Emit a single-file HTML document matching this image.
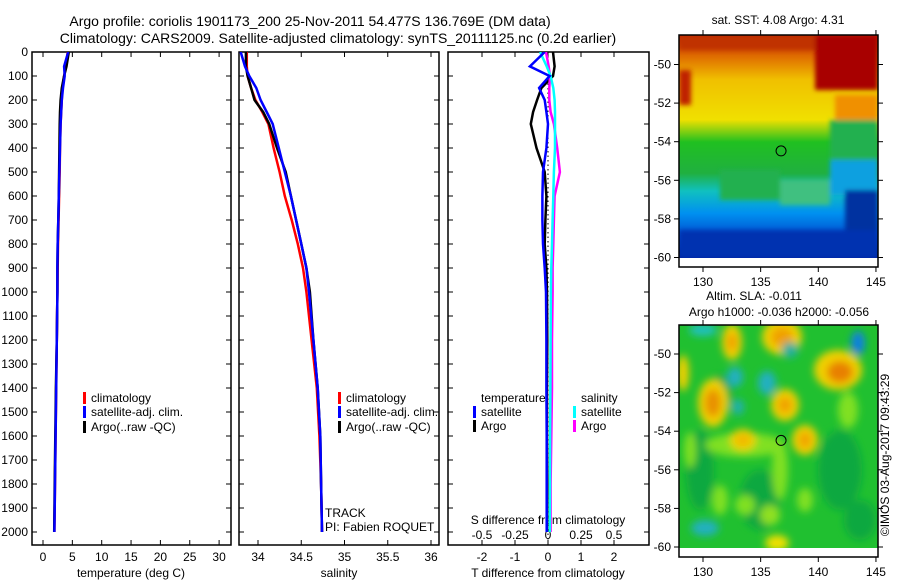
<!DOCTYPE html>
<html><head><meta charset="utf-8">
<style>
html,body{margin:0;padding:0;background:#fff;}
svg{display:block;font-family:"Liberation Sans",sans-serif;}
text{font-size:12px;fill:#000;}
</style></head>
<body>
<svg id="fig" width="900" height="580" viewBox="0 0 900 580" xmlns="http://www.w3.org/2000/svg">
<defs>
<filter id="blur" x="-20%" y="-20%" width="140%" height="140%"><feGaussianBlur stdDeviation="4"/></filter>
<filter id="blur2" x="-20%" y="-20%" width="140%" height="140%"><feGaussianBlur stdDeviation="2.5"/></filter>
<clipPath id="c1"><rect x="32" y="52" width="199" height="493"/></clipPath>
<clipPath id="c2"><rect x="239" y="52" width="200" height="493"/></clipPath>
<clipPath id="c3"><rect x="448" y="52" width="201" height="493"/></clipPath>
<clipPath id="cm1"><rect x="679" y="35" width="199" height="223"/></clipPath>
<clipPath id="cm2"><rect x="679" y="325" width="199" height="223"/></clipPath>
<linearGradient id="sstg" x1="0" y1="0" x2="0" y2="1">
<stop offset="0" stop-color="#c02000"/><stop offset="0.1" stop-color="#e07000"/>
<stop offset="0.2" stop-color="#f0c000"/><stop offset="0.38" stop-color="#f0e000"/>
<stop offset="0.48" stop-color="#20c020"/><stop offset="0.62" stop-color="#20b040"/>
<stop offset="0.7" stop-color="#10c0c0"/><stop offset="0.8" stop-color="#0090f0"/>
<stop offset="0.9" stop-color="#0050d0"/><stop offset="1" stop-color="#0020a0"/>
</linearGradient>
</defs>
<text x="310" y="26" text-anchor="middle" style="font-size:14px">Argo profile: coriolis 1901173_200 25-Nov-2011 54.477S 136.769E (DM data)</text>
<text x="338" y="43" text-anchor="middle" style="font-size:14px">Climatology: CARS2009. Satellite-adjusted climatology: synTS_20111125.nc (0.2d earlier)</text>
<g id="maps"></g>
<g id="axes"></g>
<g id="series"></g>
<text transform="translate(889,455) rotate(-90)" text-anchor="middle">©IMOS 03-Aug-2017 09:43:29</text>
</svg>
<script>
// depth axis values
const depthTicks=[0,100,200,300,400,500,600,700,800,900,1000,1100,1200,1300,1400,1500,1600,1700,1800,1900,2000];
const tempTicks=[0,5,10,15,20,25,30];
const salTicks=[34,34.5,35,35.5,36];
const salTickLabels=["34","34.5","35","35.5","36"];
const tdTicks=[-2,-1,0,1,2];
const sdTicks=[-0.5,-0.25,0,0.25,0.5];
const sdTickLabels=["-0.5","-0.25","0","0.25","0.5"];
// profiles
const depths=[0,60,100,150,200,250,300,400,500,600,700,800,900,1000,1200,1400,1600,1800,2000];
const tempClim=[4.2,3.9,3.6,3.3,3.2,3.1,3.0,2.9,2.85,2.75,2.65,2.55,2.5,2.45,2.35,2.25,2.15,2.05,1.95];
const tempSat=[4.3,3.6,3.7,3.4,3.2,3.1,3.0,2.9,2.8,2.7,2.6,2.5,2.45,2.45,2.35,2.25,2.15,2.05,1.95];
const tempArgo=[4.4,4.0,3.6,3.2,3.0,2.9,2.85,2.8,2.75,2.7,2.6,2.5,2.45,2.45,2.35,2.2,2.1,2.0,1.9];
const salClim=[33.87,33.87,33.88,33.92,33.97,34.05,34.12,34.18,34.25,34.31,34.39,34.46,34.52,34.56,34.62,34.68,34.71,34.73,34.74];
const salSat=[33.8,33.85,33.9,33.98,34.03,34.1,34.17,34.24,34.31,34.38,34.44,34.5,34.56,34.59,34.64,34.69,34.72,34.73,34.74];
const salArgo=[33.86,33.86,33.88,33.92,33.96,34.06,34.13,34.22,34.32,34.38,34.44,34.5,34.56,34.6,34.64,34.69,34.72,34.73,34.74];
const dTsat=[-0.1,-0.55,0.05,-0.27,-0.1,-0.05,0,-0.05,-0.15,-0.17,-0.17,-0.15,-0.1,-0.06,-0.05,-0.05,-0.04,-0.04,-0.04];
const dTargo=[0.15,0.2,0.15,-0.2,-0.33,-0.45,-0.52,-0.35,-0.1,-0.05,-0.08,-0.1,-0.05,-0.03,-0.02,-0.03,-0.03,-0.02,-0.03];
const dSsat=[-0.06,-0.01,0.02,0.04,0.05,0.053,0.053,0.053,0.045,0.04,0.035,0.03,0.025,0.022,0.02,0.018,0.016,0.015,0.014];
const dSargo=[-0.015,0.005,0.015,0.01,0.01,0.02,0.045,0.07,0.09,0.05,0.045,0.04,0.035,0.035,0.03,0.03,0.025,0.02,0.02];

const NS='http://www.w3.org/2000/svg';
function el(tag,attrs,parent,txt){const e=document.createElementNS(NS,tag);for(const k in attrs)e.setAttribute(k,attrs[k]);if(txt!==undefined)e.textContent=txt;parent.appendChild(e);return e;}
const axes=document.getElementById('axes'), ser=document.getElementById('series'), maps=document.getElementById('maps');
const yD=d=>52+d*0.24;
const xT=t=>43+t*5.87;
const xS=s=>258+(s-34)*86.5;
const xDT=t=>548+t*33;
const xDS=s=>548+s*132;
const panels=[[32,231,'temperature-panel'],[239,439,'salinity-panel'],[448,649,'difference-panel']];
panels.forEach(([x0,x1,nm],i)=>{
  const r=el('rect',{x:x0,y:52,width:x1-x0,height:493,fill:'none',stroke:'#000','stroke-width':1.5},axes);
  
  
  depthTicks.forEach(d=>{
    const y=yD(d);
    el('line',{x1:x0,y1:y,x2:x0+5,y2:y,stroke:'#000'},axes);
    el('line',{x1:x1-5,y1:y,x2:x1,y2:y,stroke:'#000'},axes);
    if(i===0){const t=el('text',{x:28,y:y+4,'text-anchor':'end'},axes,String(d));
      
      }
  });
});
function xticks(vals,labels,fx,ylab,name){vals.forEach((v,k)=>{const x=fx(v);
  el('line',{x1:x,y1:545,x2:x,y2:540,stroke:'#000'},axes);el('line',{x1:x,y1:52,x2:x,y2:57,stroke:'#000'},axes);
  const t=el('text',{x:x,y:ylab,'text-anchor':'middle'},axes,labels[k]);
  
  });}
xticks(tempTicks,tempTicks.map(String),xT,561,'temp-tick-label');
xticks(salTicks,salTickLabels,xS,561,'salinity-tick-label');
tdTicks.forEach(v=>{const x=xDT(v);el('line',{x1:x,y1:545,x2:x,y2:540,stroke:'#000'},axes);el('line',{x1:x,y1:52,x2:x,y2:57,stroke:'#000'},axes);
  const t=el('text',{x:x,y:561,'text-anchor':'middle'},axes,String(v));
  
  });
sdTicks.forEach((v,k)=>{const x=xDS(v);
  const t=el('text',{x:x,y:539,'text-anchor':'middle'},axes,sdTickLabels[k]);
  
  });
[[131,577,'temperature (deg C)','temp-axis-title'],[339,577,'salinity','salinity-axis-title'],[548,577,'T difference from climatology','tdiff-axis-title'],[548,524,'S difference from climatology','sdiff-axis-title'],[325,517,'TRACK','track-label'],[325,531,'PI: Fabien ROQUET','pi-label']].forEach(([x,y,s,n])=>{
  const t=el('text',{x:x,y:y,'text-anchor':n.startsWith('track')||n.startsWith('pi')?'start':'middle'},axes,s);
  
  });
const zl=el('line',{x1:548,y1:52,x2:548,y2:545,stroke:'#000','stroke-dasharray':'1.5,3'},axes);


function line(vals,fx,color,clip,name,w){
  const pts=vals.map((v,k)=>fx(v).toFixed(1)+','+yD(depths[k]).toFixed(1)).join(' ');
  const p=el('polyline',{points:pts,fill:'none',stroke:color,'stroke-width':w||2.5,'clip-path':'url(#'+clip+')'},ser);
  
  
}
line(tempClim,xT,'#f00','c1','temp-climatology-line');
line(tempArgo,xT,'#000','c1','temp-argo-line');
line(tempSat,xT,'#00f','c1','temp-satellite-line');
line(salClim,xS,'#f00','c2','sal-climatology-line');
line(salArgo,xS,'#000','c2','sal-argo-line');
line(salSat,xS,'#00f','c2','sal-satellite-line');
line(dTargo,xDT,'#000','c3','tdiff-argo-line');
line(dSargo,xDS,'#f0f','c3','sdiff-argo-line');
line(dSsat,xDS,'#0ff','c3','sdiff-satellite-line');
line(dTsat,xDT,'#00f','c3','tdiff-satellite-line');
function leg(x,y,color,label,name){
  const g=el('g',{},axes);
  
  
  if(color)el('rect',{x:x-8,y:y-10,width:3,height:12,fill:color},g);
  el('text',{x:x,y:y},g,label);
}
leg(91,402,'#f00','climatology','legend-climatology');
leg(91,416,'#00f','satellite-adj. clim.','legend-satellite-adj');
leg(91,431,'#000','Argo(..raw -QC)','legend-argo');
leg(346,402,'#f00','climatology','legend2-climatology');
leg(346,416,'#00f','satellite-adj. clim.','legend2-satellite-adj');
leg(346,431,'#000','Argo(..raw -QC)','legend2-argo');
leg(481,402,null,'temperature','legend-temperature-header');
leg(481,416,'#00f','satellite','legend-t-satellite');
leg(481,430,'#000','Argo','legend-t-argo');
leg(581,402,null,'salinity','legend-salinity-header');
leg(581,416,'#0ff','satellite','legend-s-satellite');
leg(581,430,'#f0f','Argo','legend-s-argo');
const lonTicks=[130,135,140,145], latTicks=[-50,-52,-54,-56,-58,-60];
const xL=l=>703+(l-130)*11.53;
function mapFrame(top,latZero,name){
  const g=el('g',{},maps);
  
  
  el('rect',{x:679,y:top,width:199,height:232,fill:'none',stroke:'#000','stroke-width':1.5},g);
  lonTicks.forEach(l=>{const x=xL(l);el('line',{x1:x,y1:top,x2:x,y2:top-5,stroke:'#000'},g);el('line',{x1:x,y1:top+232,x2:x,y2:top+237,stroke:'#000'},g);
    el('text',{x:x,y:top+251,'text-anchor':'middle'},g,String(l));});
  latTicks.forEach(l=>{const y=latZero+(-50-l)*19.3;el('line',{x1:679,y1:y,x2:674,y2:y,stroke:'#000'},g);el('line',{x1:878,y1:y,x2:883,y2:y,stroke:'#000'},g);
    el('text',{x:671,y:y+4,'text-anchor':'end'},g,String(l));});
  el('circle',{cx:xL(136.77),cy:latZero+4.477*19.3,r:5,fill:'none',stroke:'#000'},g);
}
const s1=el('g',{'clip-path':'url(#cm1)'},maps);


el('rect',{x:679,y:35,width:199,height:223,fill:'url(#sstg)'},s1);
const sb=el('g',{filter:'url(#blur2)'},s1);
[[815,35,63,55,'#a80000'],[679,35,136,15,'#c03000'],[679,70,12,35,'#c02000'],[835,95,43,25,'#f09000'],[830,120,48,40,'#20b050'],[830,160,48,35,'#10a0e0'],[845,190,33,68,'#0030a0'],[679,230,199,28,'#0030b0'],[720,170,60,30,'#20b050'],[780,180,50,25,'#40c080']].forEach(r=>el('rect',{x:r[0],y:r[1],width:r[2],height:r[3],fill:r[4]},sb));
el('rect',{x:679,y:258,width:199,height:9,fill:'#fff'},s1);
mapFrame(35,64.5,'sst-map');
const t1=el('text',{x:778,y:24,'text-anchor':'middle'},maps,'sat. SST: 4.08 Argo: 4.31');


const s2=el('g',{'clip-path':'url(#cm2)'},maps);


el('rect',{x:679,y:325,width:199,height:223,fill:'#20c030'},s2);
const bl=el('g',{filter:'url(#blur)'},s2);
[
[700,470,14,40,'#10a840'],[760,500,20,30,'#10a840'],[840,470,22,40,'#10a840'],[860,520,16,20,'#10a840'],[720,395,12,20,'#10a840'],
[745,445,40,12,'#80e020'],[780,470,8,30,'#80e020'],[720,500,8,15,'#80e020'],[745,505,10,10,'#80e020'],[770,515,10,10,'#90e020'],[805,500,8,12,'#80e020'],[848,410,10,18,'#80e020'],[690,450,6,18,'#80e020'],
[713,403,15,24,'#f0d000'],[713,403,8,14,'#e89000'],
[732,342,10,18,'#f0d000'],[732,342,5,9,'#f0a000'],
[782,337,20,18,'#f0d000'],[782,337,11,10,'#f0a000'],
[838,370,24,20,'#f0d000'],[840,372,13,11,'#e88000'],
[785,405,14,16,'#f0d000'],[785,405,7,8,'#f0a000'],
[743,440,13,11,'#f0d000'],[743,440,6,5,'#f0b000'],
[805,440,13,15,'#f0d000'],[805,440,6,8,'#f0a000'],
[683,373,6,18,'#f0d000'],[777,543,12,8,'#f0e000'],
[703,330,14,6,'#20c0c0'],[735,377,8,10,'#20b0c0'],[767,383,9,12,'#20b0c0'],[738,407,6,8,'#20b0b0'],[858,343,7,12,'#1080e0'],[705,528,14,8,'#20b0c0'],[790,350,8,8,'#20b0a0']
].forEach(e=>el('ellipse',{cx:e[0],cy:e[1],rx:e[2],ry:e[3],fill:e[4]},bl));
el('rect',{x:679,y:548,width:199,height:9,fill:'#fff'},s2);
mapFrame(325,354,'sla-map');
const t2=el('text',{x:754,y:300,'text-anchor':'middle'},maps,'Altim. SLA: -0.011');


const t3=el('text',{x:779,y:316,'text-anchor':'middle'},maps,'Argo h1000: -0.036 h2000: -0.056');


</script>
</body></html>
